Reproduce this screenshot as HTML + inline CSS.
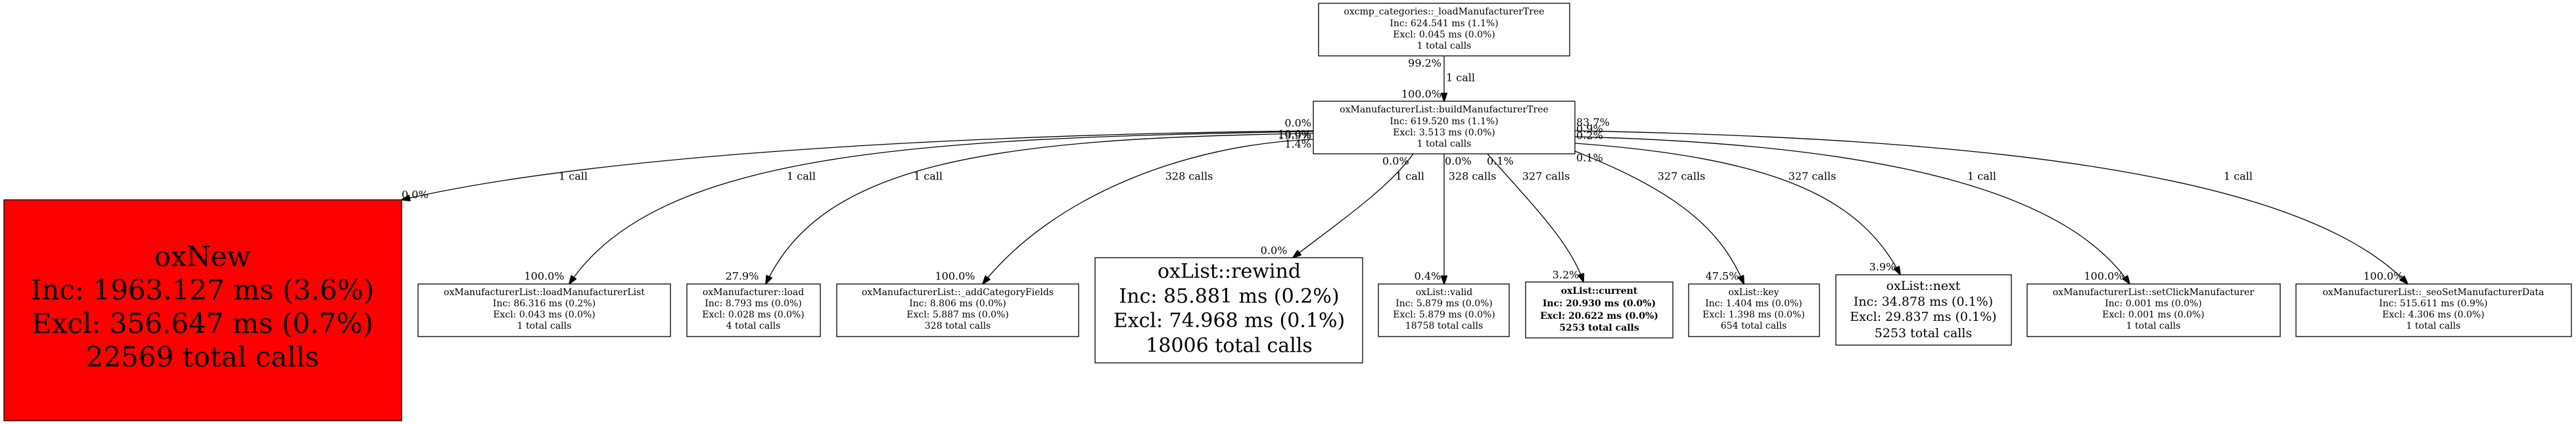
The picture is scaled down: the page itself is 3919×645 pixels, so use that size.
<!DOCTYPE html>
<html><head><meta charset="utf-8"><style>
html,body{margin:0;padding:0;background:#fff;width:3919px;height:645px;overflow:hidden}
svg{display:block}
text{font-family:"DejaVu Serif","Liberation Serif",serif;fill:#000}
.n{font-size:14px;text-anchor:middle;dominant-baseline:central}
.e{font-size:16px;dominant-baseline:central}
.m{text-anchor:middle}
.r{text-anchor:end}
rect{stroke:#000;stroke-width:1.3;fill:#fff}
path{fill:none;stroke:#000;stroke-width:1.3}
</style></head><body>
<svg width="3919" height="645" viewBox="0 0 3919 645" xmlns="http://www.w3.org/2000/svg">
<defs><marker id="a" markerWidth="14" markerHeight="10" refX="13" refY="5" orient="auto" markerUnits="userSpaceOnUse"><path d="M0,0 L14,5 L0,10 Z" style="fill:#000;stroke:#000;stroke-width:1"/></marker></defs>

<path d="M2197,85 L2197,154" marker-end="url(#a)"/>
<path d="M1998,199 C1600,203 950,225 611,304" marker-end="url(#a)"/>
<path d="M1998,200 C1400,210 1000,230 866,432" marker-end="url(#a)"/>
<path d="M1998,203 C1500,210 1250,250 1165,432" marker-end="url(#a)"/>
<path d="M1998,212 C1800,220 1600,300 1495,432" marker-end="url(#a)"/>
<path d="M2150,234 C2110,290 2020,350 1967,392" marker-end="url(#a)"/>
<path d="M2197,234 L2197,432" marker-end="url(#a)"/>
<path d="M2263,234 C2330,310 2390,370 2409,429" marker-end="url(#a)"/>
<path d="M2396,230 C2550,290 2620,350 2653,432" marker-end="url(#a)"/>
<path d="M2396,218 C2700,240 2830,300 2891,418" marker-end="url(#a)"/>
<path d="M2396,208 C2900,220 3150,300 3240,432" marker-end="url(#a)"/>
<path d="M2396,199 C3000,210 3500,260 3663,432" marker-end="url(#a)"/>

<rect x="2006" y="5" width="382" height="80"/>
<text class="n" x="2197" y="18">oxcmp_categories::_loadManufacturerTree</text>
<text class="n" x="2197" y="36">Inc: 624.541 ms (1.1%)</text>
<text class="n" x="2197" y="53">Excl: 0.045 ms (0.0%)</text>
<text class="n" x="2197" y="70">1 total calls</text>

<rect x="1998" y="154" width="398" height="80"/>
<text class="n" x="2197" y="167">oxManufacturerList::buildManufacturerTree</text>
<text class="n" x="2197" y="185">Inc: 619.520 ms (1.1%)</text>
<text class="n" x="2197" y="202">Excl: 3.513 ms (0.0%)</text>
<text class="n" x="2197" y="219">1 total calls</text>

<rect x="6" y="304" width="605" height="336" style="fill:#ff0000"/>
<text class="n" x="308" y="390" style="font-size:42px">oxNew</text>
<text class="n" x="308" y="441" style="font-size:42px">Inc: 1963.127 ms (3.6%)</text>
<text class="n" x="308" y="492" style="font-size:42px">Excl: 356.647 ms (0.7%)</text>
<text class="n" x="308" y="543" style="font-size:42px">22569 total calls</text>

<rect x="636" y="432" width="384" height="80"/>
<text class="n" x="828" y="445">oxManufacturerList::loadManufacturerList</text>
<text class="n" x="828" y="462">Inc: 86.316 ms (0.2%)</text>
<text class="n" x="828" y="479">Excl: 0.043 ms (0.0%)</text>
<text class="n" x="828" y="496">1 total calls</text>

<rect x="1045" y="432" width="203" height="80"/>
<text class="n" x="1146" y="445">oxManufacturer::load</text>
<text class="n" x="1146" y="462">Inc: 8.793 ms (0.0%)</text>
<text class="n" x="1146" y="479">Excl: 0.028 ms (0.0%)</text>
<text class="n" x="1146" y="496">4 total calls</text>

<rect x="1273" y="432" width="368" height="80"/>
<text class="n" x="1457" y="445">oxManufacturerList::_addCategoryFields</text>
<text class="n" x="1457" y="462">Inc: 8.806 ms (0.0%)</text>
<text class="n" x="1457" y="479">Excl: 5.887 ms (0.0%)</text>
<text class="n" x="1457" y="496">328 total calls</text>

<rect x="1666" y="392" width="407" height="160"/>
<text class="n" x="1870" y="413" style="font-size:30px">oxList::rewind</text>
<text class="n" x="1870" y="451" style="font-size:30px">Inc: 85.881 ms (0.2%)</text>
<text class="n" x="1870" y="488" style="font-size:30px">Excl: 74.968 ms (0.1%)</text>
<text class="n" x="1870" y="526" style="font-size:30px">18006 total calls</text>

<rect x="2097" y="432" width="199" height="80"/>
<text class="n" x="2197" y="445">oxList::valid</text>
<text class="n" x="2197" y="462">Inc: 5.879 ms (0.0%)</text>
<text class="n" x="2197" y="479">Excl: 5.879 ms (0.0%)</text>
<text class="n" x="2197" y="496">18758 total calls</text>

<rect x="2321" y="429" width="224" height="85"/>
<text class="n" x="2433" y="443" style="font-weight:bold">oxList::current</text>
<text class="n" x="2433" y="462" style="font-weight:bold">Inc: 20.930 ms (0.0%)</text>
<text class="n" x="2433" y="481" style="font-weight:bold">Excl: 20.622 ms (0.0%)</text>
<text class="n" x="2433" y="499" style="font-weight:bold">5253 total calls</text>

<rect x="2569" y="432" width="199" height="80"/>
<text class="n" x="2668" y="445">oxList::key</text>
<text class="n" x="2668" y="462">Inc: 1.404 ms (0.0%)</text>
<text class="n" x="2668" y="479">Excl: 1.398 ms (0.0%)</text>
<text class="n" x="2668" y="496">654 total calls</text>

<rect x="2793" y="418" width="267" height="107"/>
<text class="n" x="2926" y="435" style="font-size:19px">oxList::next</text>
<text class="n" x="2926" y="459" style="font-size:19px">Inc: 34.878 ms (0.1%)</text>
<text class="n" x="2926" y="482" style="font-size:19px">Excl: 29.837 ms (0.1%)</text>
<text class="n" x="2926" y="507" style="font-size:19px">5253 total calls</text>

<rect x="3084" y="432" width="385" height="80"/>
<text class="n" x="3276" y="445">oxManufacturerList::setClickManufacturer</text>
<text class="n" x="3276" y="462">Inc: 0.001 ms (0.0%)</text>
<text class="n" x="3276" y="479">Excl: 0.001 ms (0.0%)</text>
<text class="n" x="3276" y="496">1 total calls</text>

<rect x="3493" y="432" width="419" height="80"/>
<text class="n" x="3702" y="445">oxManufacturerList::_seoSetManufacturerData</text>
<text class="n" x="3702" y="462">Inc: 515.611 ms (0.9%)</text>
<text class="n" x="3702" y="479">Excl: 4.306 ms (0.0%)</text>
<text class="n" x="3702" y="496">1 total calls</text>

<text class="e r" x="2193" y="96">99.2%</text>
<text class="e" x="2200" y="118">1 call</text>
<text class="e r" x="2193" y="143">100.0%</text>

<text class="e r" x="1995" y="187">0.0%</text>
<text class="e r" x="1995" y="204">10.0%</text>
<text class="e r" x="1995" y="206">19.9%</text>
<text class="e r" x="1995" y="219">1.4%</text>

<text class="e" x="2398" y="186">83.7%</text>
<text class="e" x="2398" y="196">0.9%</text>
<text class="e" x="2398" y="206">0.2%</text>
<text class="e" x="2398" y="240">0.1%</text>

<text class="e" x="2103" y="245">0.0%</text>
<text class="e" x="2198" y="245">0.0%</text>
<text class="e" x="2262" y="245">0.1%</text>

<text class="e m" x="872" y="268">1 call</text>
<text class="e m" x="1219" y="268">1 call</text>
<text class="e m" x="1412" y="268">1 call</text>
<text class="e m" x="1809" y="268">328 calls</text>
<text class="e m" x="2145" y="268">1 call</text>
<text class="e m" x="2240" y="268">328 calls</text>
<text class="e m" x="2352" y="268">327 calls</text>
<text class="e m" x="2558" y="268">327 calls</text>
<text class="e m" x="2757" y="268">327 calls</text>
<text class="e m" x="3015" y="268">1 call</text>
<text class="e m" x="3405" y="268">1 call</text>

<text class="e" x="611" y="296">0.0%</text>
<text class="e m" x="828" y="420">100.0%</text>
<text class="e m" x="1129" y="420">27.9%</text>
<text class="e m" x="1453" y="420">100.0%</text>
<text class="e m" x="1938" y="381">0.0%</text>
<text class="e m" x="2172" y="420">0.4%</text>
<text class="e m" x="2382" y="418">3.2%</text>
<text class="e m" x="2620" y="420">47.5%</text>
<text class="e m" x="2864" y="406">3.9%</text>
<text class="e m" x="3201" y="420">100.0%</text>
<text class="e m" x="3626" y="420">100.0%</text>
</svg>
</body></html>
